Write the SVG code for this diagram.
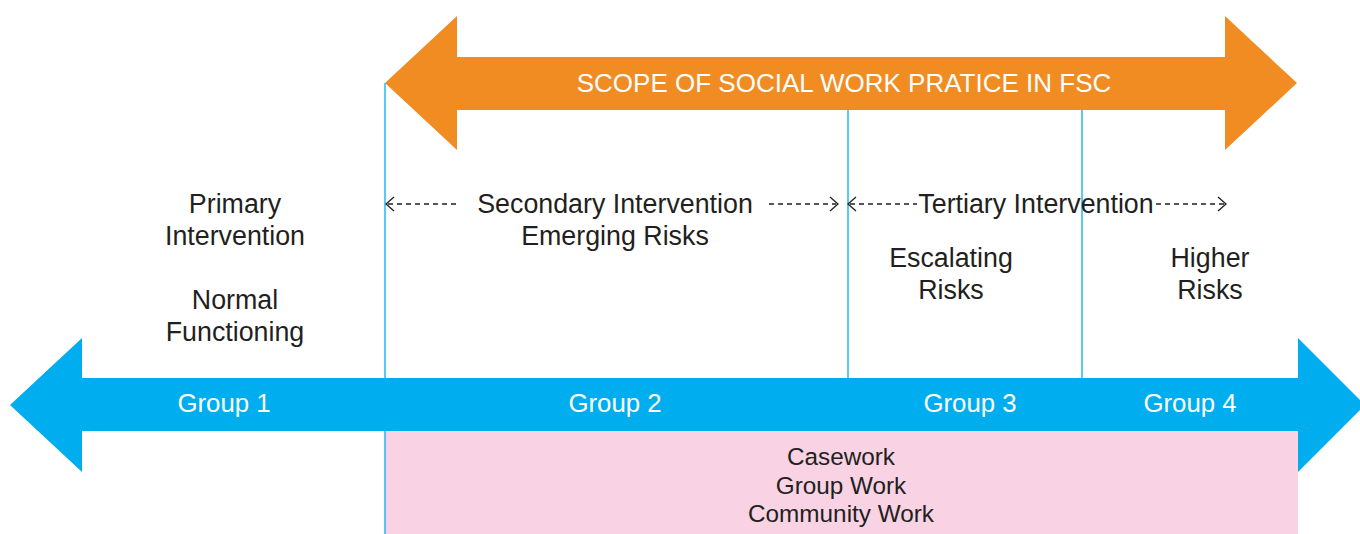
<svg xmlns="http://www.w3.org/2000/svg" width="1360" height="534" viewBox="0 0 1360 534">
<style>
.t{font-family:"Liberation Sans",Arial,Helvetica,sans-serif;font-size:26.8px;fill:#231f20;text-anchor:middle}
.w{font-family:"Liberation Sans",Arial,Helvetica,sans-serif;fill:#ffffff;text-anchor:middle}
.g{font-size:25.8px}
.p{font-family:"Liberation Sans",Arial,Helvetica,sans-serif;font-size:24.3px;fill:#231f20;text-anchor:middle}
.vl{stroke:#00aeef;stroke-width:1.3;fill:none}
.da{stroke:#231f20;stroke-width:1.3;fill:none;stroke-dasharray:5 4}
.hd{stroke:#231f20;stroke-width:1.3;fill:none}
</style>
<rect width="1360" height="534" fill="#ffffff"/>
<g id="pink-box">
<rect x="385" y="431" width="913" height="103" fill="#f9d3e4"/>
<text class="p" x="841" y="465">Casework</text>
<text class="p" x="841" y="494">Group Work</text>
<text class="p" x="841" y="522">Community Work</text>
</g>
<g id="blue-arrow">
<polygon points="10,405 82,338 82,378 1298,378 1298,338 1360,400 1360,410 1298,472 1298,431 82,431 82,472" fill="#00aeef"/>
<text class="w g" x="224" y="412">Group 1</text>
<text class="w g" x="615" y="412">Group 2</text>
<text class="w g" x="970" y="412">Group 3</text>
<text class="w g" x="1190" y="412">Group 4</text>
</g>
<g id="orange-arrow">
<polygon points="385,83 457,16 457,57 1225,57 1225,16 1297,83 1225,150 1225,110 457,110 457,150" fill="#f18c22"/>
<text class="w" x="844" y="92" font-size="26">SCOPE OF SOCIAL WORK PRATICE IN FSC</text>
</g>
<g id="connectors">
<line class="vl" x1="385" y1="83" x2="385" y2="534"/>
<line class="vl" x1="848" y1="110" x2="848" y2="378"/>
<line class="vl" x1="1082" y1="110" x2="1082" y2="378"/>
<line class="da" x1="388" y1="204" x2="456" y2="204"/>
<polyline class="hd" points="394,197 386,204 394,211"/>
<line class="da" x1="769" y1="204" x2="836" y2="204"/>
<polyline class="hd" points="830,197 838,204 830,211"/>
<line class="da" x1="850" y1="204" x2="917" y2="204"/>
<polyline class="hd" points="856,197 848,204 856,211"/>
<line class="da" x1="1156" y1="204" x2="1224" y2="204"/>
<polyline class="hd" points="1218,197 1226,204 1218,211"/>
</g>
<g id="group1-labels">
<text class="t" x="235" y="213">Primary</text>
<text class="t" x="235" y="245">Intervention</text>
<text class="t" x="235" y="309">Normal</text>
<text class="t" x="235" y="341">Functioning</text>
</g>
<g id="group2-labels">
<text class="t" x="615" y="213">Secondary Intervention</text>
<text class="t" x="615" y="245">Emerging Risks</text>
</g>
<g id="group3-labels">
<text class="t" x="1036" y="213">Tertiary Intervention</text>
<text class="t" x="951" y="267">Escalating</text>
<text class="t" x="951" y="299">Risks</text>
</g>
<g id="group4-labels">
<text class="t" x="1210" y="267">Higher</text>
<text class="t" x="1210" y="299">Risks</text>
</g>
</svg>
